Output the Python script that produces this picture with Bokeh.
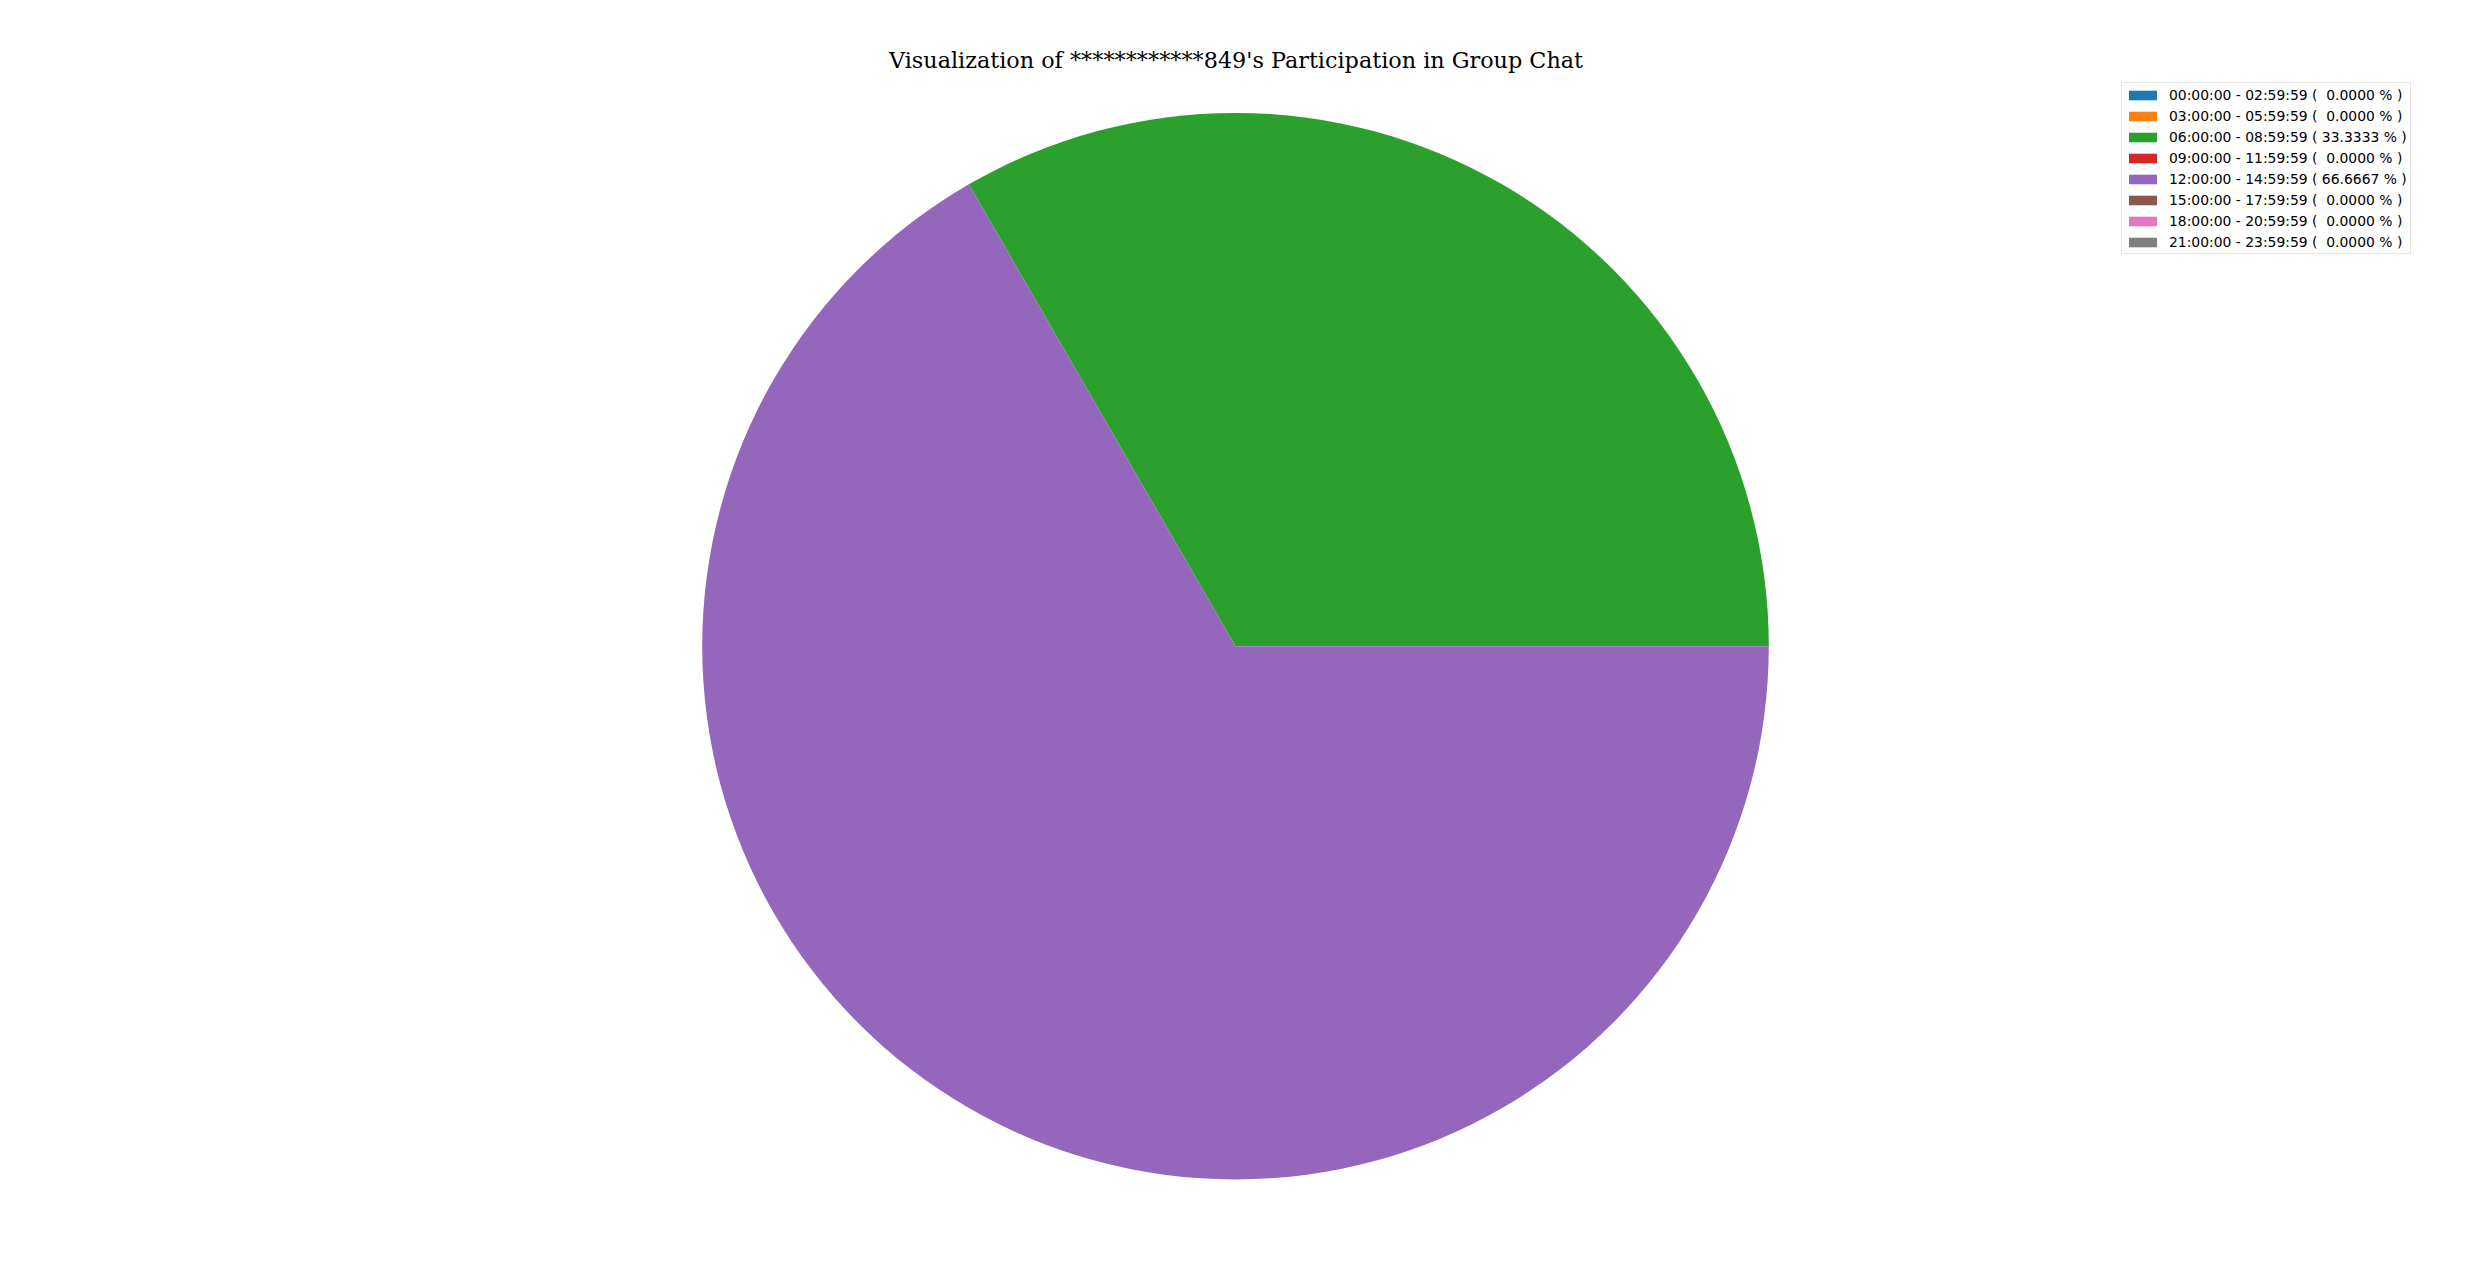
import math
from bokeh.plotting import figure
from bokeh.models import ColumnDataSource, Range1d, Label, Legend, LegendItem
from bokeh.embed import file_html
from bokeh.resources import INLINE

# ---- data ----
time_slots = [
    "00:00:00 - 02:59:59",
    "03:00:00 - 05:59:59",
    "06:00:00 - 08:59:59",
    "09:00:00 - 11:59:59",
    "12:00:00 - 14:59:59",
    "15:00:00 - 17:59:59",
    "18:00:00 - 20:59:59",
    "21:00:00 - 23:59:59",
]
message_counts = [0, 0, 1, 0, 2, 0, 0, 0]
slice_colors = ["#1f77b4", "#ff7f0e", "#2ca02c", "#d62728",
                "#9467bd", "#8c564b", "#e377c2", "#7f7f7f"]
title_text = "Visualization of ************849's Participation in Group Chat"

# ---- derived ----
total = sum(message_counts)
percents = [100.0 * c / total for c in message_counts]
labels = ["%s ( %7.4f %% )" % (t, pc) for t, pc in zip(time_slots, percents)]
starts, ends = [], []
acc = 0.0
for c in message_counts:
    a0 = 2 * math.pi * acc / total
    acc += c
    a1 = 2 * math.pi * acc / total
    starts.append(a0)
    ends.append(a1)

# only non-empty slices are drawn (empty ones have no area)
keep = [i for i, c in enumerate(message_counts) if c > 0]

# ---- layout (pixels) ----
W, H = 2470, 1270
R_PX = 533.3
CX_PX = 1235.0          # from left of figure
CY_PX = H - 645.7       # from bottom of figure

x0 = -CX_PX / R_PX
x1 = (W - CX_PX) / R_PX
y0 = -CY_PX / R_PX
y1 = (H - CY_PX) / R_PX

p = figure(width=W, height=H, x_range=Range1d(x0, x1), y_range=Range1d(y0, y1),
           output_backend="svg", toolbar_location=None, min_border=0,
           x_axis_location=None, y_axis_location=None)
p.xgrid.visible = False
p.ygrid.visible = False
p.outline_line_color = None
p.background_fill_color = "white"
p.border_fill_color = "white"

pie_src = ColumnDataSource(dict(
    start=[starts[i] for i in keep], end=[ends[i] for i in keep],
    color=[slice_colors[i] for i in keep],
    x=[0.0] * len(keep), y=[0.0] * len(keep)))
p.wedge(x="x", y="y", radius=1.0, start_angle="start", end_angle="end",
        fill_color="color", line_color=None, direction="anticlock", source=pie_src)

# legend swatches (not drawn in the plot area)
leg_src = ColumnDataSource(dict(x=[float("nan")] * len(labels), y=[float("nan")] * len(labels),
                                color=slice_colors, label=labels))
swatches = p.rect(x="x", y="y", width=0.0, height=0.0, fill_color="color",
                  line_color=None, source=leg_src)

items = [LegendItem(label=lab, renderers=[swatches], index=i) for i, lab in enumerate(labels)]
legend = Legend(items=items, location=(2121, H - 254),
                orientation="vertical",
                label_text_font="DejaVu Sans", label_text_font_size="13.9px",
                label_text_color="black",
                glyph_width=35, glyph_height=12, label_height=17, spacing=4,
                padding=3, label_standoff=9, margin=0,
                border_line_color="#cccccc", border_line_width=1,
                background_fill_color="white", background_fill_alpha=0.8)
p.add_layout(legend, "center")

title = Label(x=1235.5, y=H - 59.5, x_units="screen", y_units="screen",
              text=title_text, text_font="DejaVu Serif", text_font_size="22.3px",
              text_align="center", text_baseline="alphabetic", text_color="black")
p.add_layout(title)

open("out.html", "w").write(file_html(p, INLINE))
